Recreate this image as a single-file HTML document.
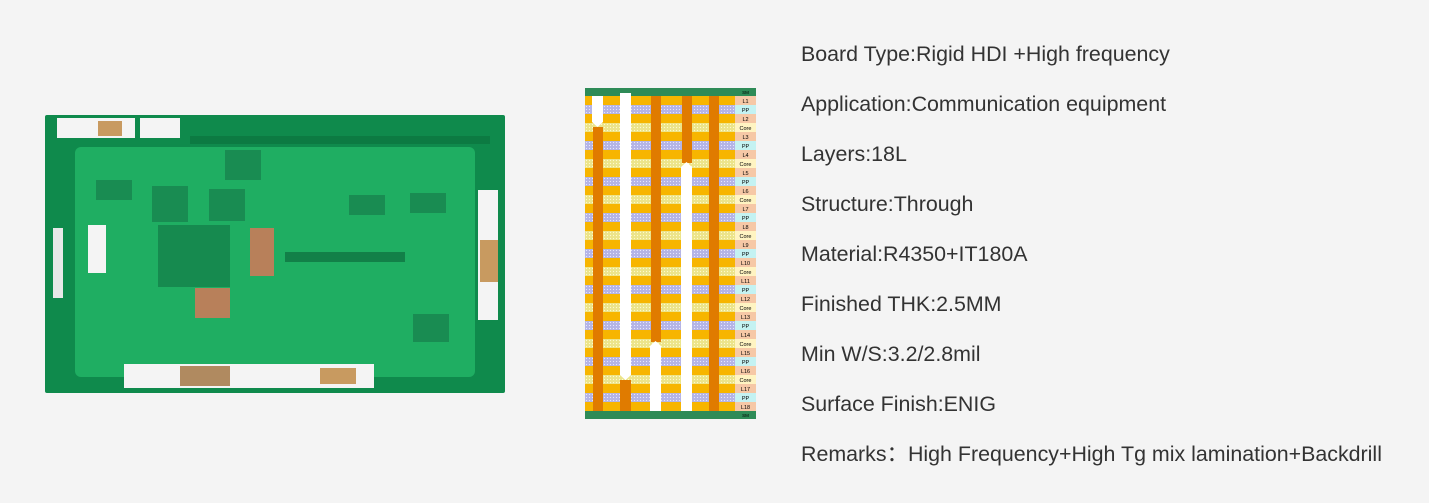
<!DOCTYPE html>
<html><head><meta charset="utf-8"><style>
body{margin:0;width:1429px;height:503px;background:#f4f4f4;position:relative;overflow:hidden;font-family:"Liberation Sans","Noto Sans CJK SC",sans-serif}
.t{position:absolute;left:801px;font-size:21.4px;color:#333;white-space:nowrap;line-height:24px}
</style></head><body>
<svg style="position:absolute;left:0;top:0" width="1429" height="503">
<rect x="45" y="115" width="460" height="278" fill="#0f8a4c" rx="2"/>
<rect x="57" y="118" width="78" height="20" fill="#f4f4f4"/>
<rect x="98" y="121" width="24" height="15" fill="#c89a60"/>
<rect x="140" y="118" width="40" height="20" fill="#f4f4f4"/>
<rect x="190" y="136" width="300" height="8" fill="#0c7a42"/>
<rect x="75" y="147" width="400" height="230" fill="#1fae62" rx="6"/>
<rect x="88" y="225" width="18" height="48" fill="#f4f4f4"/>
<rect x="53" y="228" width="10" height="70" fill="#e8e8e8"/>
<rect x="478" y="190" width="20" height="130" fill="#f4f4f4"/>
<rect x="480" y="240" width="18" height="42" fill="#c89a60"/>
<rect x="124" y="364" width="250" height="24" fill="#f4f4f4"/>
<rect x="180" y="366" width="50" height="20" fill="#b08a60"/>
<rect x="320" y="368" width="36" height="16" fill="#c89a60"/>
<rect x="158" y="225" width="72" height="62" fill="#168a4f"/>
<rect x="250" y="228" width="24" height="48" fill="#b8805a"/>
<rect x="195" y="288" width="35" height="30" fill="#b8805a"/>
<rect x="152" y="186" width="36" height="36" fill="#198c52"/>
<rect x="209" y="189" width="36" height="32" fill="#198c52"/>
<rect x="225" y="150" width="36" height="30" fill="#198c52"/>
<rect x="96" y="180" width="36" height="20" fill="#198c52"/>
<rect x="349" y="195" width="36" height="20" fill="#198c52"/>
<rect x="410" y="193" width="36" height="20" fill="#198c52"/>
<rect x="413" y="314" width="36" height="28" fill="#198c52"/>
<rect x="285" y="252" width="120" height="10" fill="#128048"/>
<rect x="585" y="88" width="171" height="8" fill="#2e8b57"/>
<rect x="585" y="411" width="171" height="8" fill="#2e8b57"/>
</svg>
<svg style="position:absolute;left:0;top:0" width="1429" height="503" font-family="Liberation Sans, sans-serif" font-size="5.5" text-anchor="middle">
<defs>
<pattern id="dp" width="3" height="3" patternUnits="userSpaceOnUse"><rect width="3" height="3" fill="#b4b4e6"/><circle cx="1.5" cy="1.5" r="0.6" fill="#e8e8ff"/></pattern>
<pattern id="dc" width="3" height="3" patternUnits="userSpaceOnUse"><rect width="3" height="3" fill="#ece48a"/><circle cx="1.5" cy="1.5" r="0.6" fill="#fffbd0"/></pattern>
</defs>
<g>
<rect x="585" y="96" width="150" height="9" fill="#f7b500"/><rect x="735" y="96" width="21" height="9" fill="#f6c8a6"/><text x="745.5" y="103">L1</text>
<rect x="585" y="105" width="150" height="9" fill="url(#dp)"/><rect x="735" y="105" width="21" height="9" fill="#c4f2f2"/><text x="745.5" y="112">PP</text>
<rect x="585" y="114" width="150" height="9" fill="#f7b500"/><rect x="735" y="114" width="21" height="9" fill="#f6c8a6"/><text x="745.5" y="121">L2</text>
<rect x="585" y="123" width="150" height="9" fill="url(#dc)"/><rect x="735" y="123" width="21" height="9" fill="#fff4c2"/><text x="745.5" y="130">Core</text>
<rect x="585" y="132" width="150" height="9" fill="#f7b500"/><rect x="735" y="132" width="21" height="9" fill="#f6c8a6"/><text x="745.5" y="139">L3</text>
<rect x="585" y="141" width="150" height="9" fill="url(#dp)"/><rect x="735" y="141" width="21" height="9" fill="#c4f2f2"/><text x="745.5" y="148">PP</text>
<rect x="585" y="150" width="150" height="9" fill="#f7b500"/><rect x="735" y="150" width="21" height="9" fill="#f6c8a6"/><text x="745.5" y="157">L4</text>
<rect x="585" y="159" width="150" height="9" fill="url(#dc)"/><rect x="735" y="159" width="21" height="9" fill="#fff4c2"/><text x="745.5" y="166">Core</text>
<rect x="585" y="168" width="150" height="9" fill="#f7b500"/><rect x="735" y="168" width="21" height="9" fill="#f6c8a6"/><text x="745.5" y="175">L5</text>
<rect x="585" y="177" width="150" height="9" fill="url(#dp)"/><rect x="735" y="177" width="21" height="9" fill="#c4f2f2"/><text x="745.5" y="184">PP</text>
<rect x="585" y="186" width="150" height="9" fill="#f7b500"/><rect x="735" y="186" width="21" height="9" fill="#f6c8a6"/><text x="745.5" y="193">L6</text>
<rect x="585" y="195" width="150" height="9" fill="url(#dc)"/><rect x="735" y="195" width="21" height="9" fill="#fff4c2"/><text x="745.5" y="202">Core</text>
<rect x="585" y="204" width="150" height="9" fill="#f7b500"/><rect x="735" y="204" width="21" height="9" fill="#f6c8a6"/><text x="745.5" y="211">L7</text>
<rect x="585" y="213" width="150" height="9" fill="url(#dp)"/><rect x="735" y="213" width="21" height="9" fill="#c4f2f2"/><text x="745.5" y="220">PP</text>
<rect x="585" y="222" width="150" height="9" fill="#f7b500"/><rect x="735" y="222" width="21" height="9" fill="#f6c8a6"/><text x="745.5" y="229">L8</text>
<rect x="585" y="231" width="150" height="9" fill="url(#dc)"/><rect x="735" y="231" width="21" height="9" fill="#fff4c2"/><text x="745.5" y="238">Core</text>
<rect x="585" y="240" width="150" height="9" fill="#f7b500"/><rect x="735" y="240" width="21" height="9" fill="#f6c8a6"/><text x="745.5" y="247">L9</text>
<rect x="585" y="249" width="150" height="9" fill="url(#dp)"/><rect x="735" y="249" width="21" height="9" fill="#c4f2f2"/><text x="745.5" y="256">PP</text>
<rect x="585" y="258" width="150" height="9" fill="#f7b500"/><rect x="735" y="258" width="21" height="9" fill="#f6c8a6"/><text x="745.5" y="265">L10</text>
<rect x="585" y="267" width="150" height="9" fill="url(#dc)"/><rect x="735" y="267" width="21" height="9" fill="#fff4c2"/><text x="745.5" y="274">Core</text>
<rect x="585" y="276" width="150" height="9" fill="#f7b500"/><rect x="735" y="276" width="21" height="9" fill="#f6c8a6"/><text x="745.5" y="283">L11</text>
<rect x="585" y="285" width="150" height="9" fill="url(#dp)"/><rect x="735" y="285" width="21" height="9" fill="#c4f2f2"/><text x="745.5" y="292">PP</text>
<rect x="585" y="294" width="150" height="9" fill="#f7b500"/><rect x="735" y="294" width="21" height="9" fill="#f6c8a6"/><text x="745.5" y="301">L12</text>
<rect x="585" y="303" width="150" height="9" fill="url(#dc)"/><rect x="735" y="303" width="21" height="9" fill="#fff4c2"/><text x="745.5" y="310">Core</text>
<rect x="585" y="312" width="150" height="9" fill="#f7b500"/><rect x="735" y="312" width="21" height="9" fill="#f6c8a6"/><text x="745.5" y="319">L13</text>
<rect x="585" y="321" width="150" height="9" fill="url(#dp)"/><rect x="735" y="321" width="21" height="9" fill="#c4f2f2"/><text x="745.5" y="328">PP</text>
<rect x="585" y="330" width="150" height="9" fill="#f7b500"/><rect x="735" y="330" width="21" height="9" fill="#f6c8a6"/><text x="745.5" y="337">L14</text>
<rect x="585" y="339" width="150" height="9" fill="url(#dc)"/><rect x="735" y="339" width="21" height="9" fill="#fff4c2"/><text x="745.5" y="346">Core</text>
<rect x="585" y="348" width="150" height="9" fill="#f7b500"/><rect x="735" y="348" width="21" height="9" fill="#f6c8a6"/><text x="745.5" y="355">L15</text>
<rect x="585" y="357" width="150" height="9" fill="url(#dp)"/><rect x="735" y="357" width="21" height="9" fill="#c4f2f2"/><text x="745.5" y="364">PP</text>
<rect x="585" y="366" width="150" height="9" fill="#f7b500"/><rect x="735" y="366" width="21" height="9" fill="#f6c8a6"/><text x="745.5" y="373">L16</text>
<rect x="585" y="375" width="150" height="9" fill="url(#dc)"/><rect x="735" y="375" width="21" height="9" fill="#fff4c2"/><text x="745.5" y="382">Core</text>
<rect x="585" y="384" width="150" height="9" fill="#f7b500"/><rect x="735" y="384" width="21" height="9" fill="#f6c8a6"/><text x="745.5" y="391">L17</text>
<rect x="585" y="393" width="150" height="9" fill="url(#dp)"/><rect x="735" y="393" width="21" height="9" fill="#c4f2f2"/><text x="745.5" y="400">PP</text>
<rect x="585" y="402" width="150" height="9" fill="#f7b500"/><rect x="735" y="402" width="21" height="9" fill="#f6c8a6"/><text x="745.5" y="409">L18</text>
<rect x="735" y="88" width="21" height="8" fill="#2e8b57"/><text x="745.5" y="94" font-size="4.5">SM</text>
<rect x="735" y="411" width="21" height="8" fill="#2e8b57"/><text x="745.5" y="417" font-size="4.5">SM</text>
</g>
<path d="M592 96 H603 V122 L597.5 127 L592 122 Z" fill="#fff"/>
<rect x="593" y="127" width="10" height="284" fill="#e07b00"/>
<path d="M620 93 H631 V375 L625.5 380 L620 375 Z" fill="#fff"/>
<rect x="620" y="380" width="11" height="31" fill="#e07b00"/>
<rect x="651" y="96" width="10" height="246" fill="#e07b00"/>
<path d="M650 411 V346 L655.5 341 L661 346 V411 Z" fill="#fff"/>
<rect x="682" y="96" width="10" height="67" fill="#e07b00"/>
<path d="M681 411 V167 L686.5 162 L692 167 V411 Z" fill="#fff"/>
<rect x="709" y="96" width="10" height="315" fill="#e07b00"/>
</svg>
<div class="t" style="top:42px">Board Type:Rigid HDI +High frequency</div>
<div class="t" style="top:92px">Application:Communication equipment</div>
<div class="t" style="top:142px">Layers:18L</div>
<div class="t" style="top:192px">Structure:Through</div>
<div class="t" style="top:242px">Material:R4350+IT180A</div>
<div class="t" style="top:292px">Finished THK:2.5MM</div>
<div class="t" style="top:342px">Min W/S:3.2/2.8mil</div>
<div class="t" style="top:392px">Surface Finish:ENIG</div>
<div class="t" style="top:442px">Remarks：High Frequency+High Tg mix lamination+Backdrill</div>
</body></html>
